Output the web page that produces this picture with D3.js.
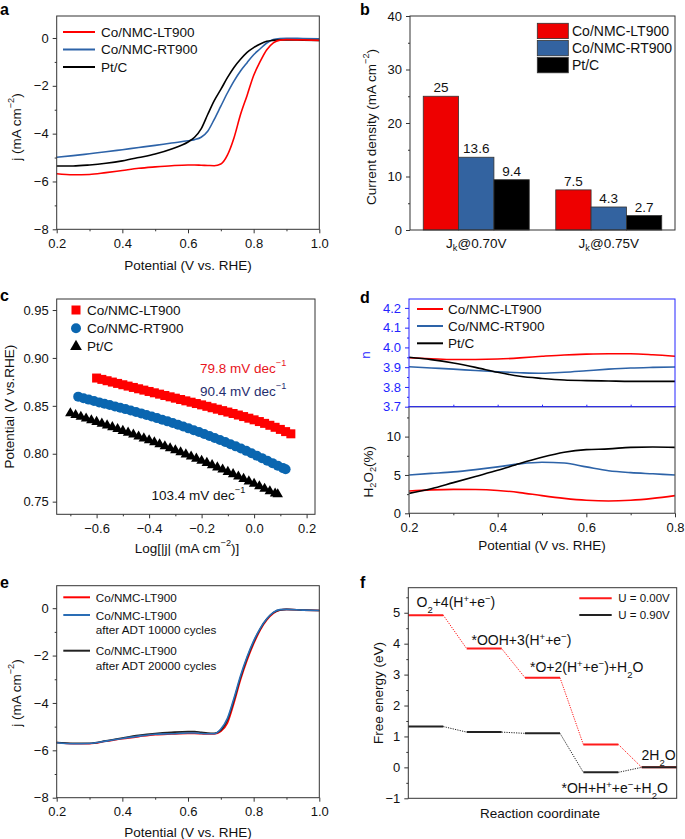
<!DOCTYPE html>
<html><head><meta charset="utf-8">
<script src="https://cdn.jsdelivr.net/npm/d3@7"></script>
<style>body{margin:0;background:#fff;} svg{display:block;font-family:"Liberation Sans",Arial,Helvetica,sans-serif;}</style>
</head><body><svg id="fig" width="685" height="839"></svg>
<script>
// ---------------- DATA ----------------
// Panel a: LSV curves
const aPotential = [0.2,0.25,0.3,0.35,0.4,0.45,0.5,0.55,0.6,0.62,0.64,0.66,0.68,0.7,0.72,0.74,0.76,0.78,0.8,0.82,0.84,0.86,0.88,0.9,0.95,1.0];
const aLT900 = [-5.68,-5.72,-5.71,-5.63,-5.54,-5.45,-5.39,-5.34,-5.31,-5.31,-5.32,-5.33,-5.34,-5.27,-4.9,-4.18,-3.2,-2.4,-1.57,-0.98,-0.49,-0.2,-0.09,-0.07,-0.08,-0.1];
const aRT900 = [-4.99,-4.92,-4.84,-4.76,-4.67,-4.58,-4.49,-4.39,-4.3,-4.25,-4.15,-3.9,-3.4,-2.85,-2.3,-1.8,-1.38,-1.03,-0.7,-0.45,-0.21,-0.06,-0.02,-0.01,-0.02,-0.03];
const aPtC   = [-5.35,-5.35,-5.31,-5.24,-5.14,-5.0,-4.85,-4.64,-4.35,-4.15,-3.8,-3.2,-2.62,-2.15,-1.66,-1.23,-0.89,-0.6,-0.4,-0.25,-0.14,-0.1,-0.08,-0.08,-0.09,-0.1];
const aSeriesNames = ["Co/NMC-LT900","Co/NMC-RT900","Pt/C"];

// Panel b: kinetic current densities
const bCategories = ["0.70V","0.75V"];
const bSeriesNames = ["Co/NMC-LT900","Co/NMC-RT900","Pt/C"];
const bLT900 = [25, 7.5];
const bRT900 = [13.6, 4.3];
const bPtC   = [9.4, 2.7];
const bLabels = [["25","7.5"],["13.6","4.3"],["9.4","2.7"]];

// Panel c: Tafel plots
const cLTx = [-0.60,-0.58,-0.56,-0.54,-0.52,-0.50,-0.48,-0.46,-0.44,-0.42,-0.40,-0.38,-0.36,-0.34,-0.32,-0.30,-0.28,-0.26,-0.24,-0.22,-0.20,-0.18,-0.16,-0.14,-0.12,-0.10,-0.08,-0.06,-0.04,-0.02,0.00,0.02,0.04,0.06,0.08,0.10,0.12,0.14];
const cLTy = [0.8790,0.8776,0.8762,0.8748,0.8734,0.8720,0.8706,0.8692,0.8678,0.8664,0.8650,0.8636,0.8622,0.8608,0.8594,0.8580,0.8566,0.8552,0.8538,0.8524,0.8510,0.8495,0.8480,0.8465,0.8450,0.8435,0.8420,0.8404,0.8388,0.8371,0.8354,0.8336,0.8317,0.8297,0.8276,0.8254,0.8231,0.8208];
const cRTx = [-0.67,-0.65,-0.63,-0.61,-0.59,-0.57,-0.55,-0.53,-0.51,-0.49,-0.47,-0.45,-0.43,-0.41,-0.39,-0.37,-0.35,-0.33,-0.31,-0.29,-0.27,-0.25,-0.23,-0.21,-0.19,-0.17,-0.15,-0.13,-0.11,-0.09,-0.07,-0.05,-0.03,-0.01,0.01,0.03,0.05,0.07,0.09,0.11,0.12];
const cRTy = [0.8596,0.8580,0.8565,0.8550,0.8536,0.8522,0.8508,0.8494,0.8480,0.8466,0.8451,0.8436,0.8421,0.8405,0.8389,0.8372,0.8355,0.8338,0.8320,0.8302,0.8284,0.8265,0.8246,0.8226,0.8206,0.8186,0.8165,0.8144,0.8122,0.8100,0.8077,0.8054,0.8030,0.8005,0.7980,0.7954,0.7928,0.7902,0.7876,0.7850,0.7838];
const cPtx = [-0.70,-0.68,-0.66,-0.64,-0.62,-0.60,-0.58,-0.56,-0.54,-0.52,-0.50,-0.48,-0.46,-0.44,-0.42,-0.40,-0.38,-0.36,-0.34,-0.32,-0.30,-0.28,-0.26,-0.24,-0.22,-0.20,-0.18,-0.16,-0.14,-0.12,-0.10,-0.08,-0.06,-0.04,-0.02,0.00,0.02,0.04,0.06,0.08,0.09];
const cPty = [0.8422,0.8404,0.8386,0.8368,0.8350,0.8332,0.8314,0.8296,0.8277,0.8258,0.8239,0.8220,0.8200,0.8180,0.8160,0.8140,0.8120,0.8099,0.8078,0.8057,0.8036,0.8015,0.7993,0.7971,0.7949,0.7927,0.7904,0.7881,0.7858,0.7835,0.7811,0.7787,0.7762,0.7737,0.7712,0.7686,0.7660,0.7634,0.7608,0.7585,0.7577];
const cSlopes = ["79.8 mV dec","90.4 mV dec","103.4 mV dec"];

// Panel d: electron transfer number and H2O2 yield
const dPotential = [0.2,0.25,0.3,0.35,0.4,0.45,0.5,0.55,0.6,0.65,0.7,0.75,0.8];
const dnLT = [3.948,3.943,3.939,3.939,3.941,3.947,3.955,3.962,3.966,3.968,3.968,3.963,3.955];
const dnRT = [3.902,3.896,3.890,3.883,3.877,3.872,3.869,3.874,3.882,3.890,3.896,3.899,3.901];
const dnPt = [3.950,3.938,3.921,3.899,3.874,3.854,3.843,3.835,3.832,3.830,3.828,3.828,3.828];
const dHLT = [2.9,3.05,3.12,3.1,2.98,2.7,2.3,1.95,1.7,1.6,1.7,1.95,2.3];
const dHRT = [5.0,5.2,5.4,5.7,6.05,6.45,6.65,6.55,6.05,5.55,5.3,5.15,5.0];
const dHPt = [2.6,3.2,4.0,4.8,5.6,6.5,7.3,7.95,8.3,8.4,8.6,8.65,8.6];

// Panel e: durability
const ePotential = [0.2,0.25,0.3,0.35,0.4,0.45,0.5,0.55,0.6,0.62,0.64,0.66,0.68,0.7,0.72,0.74,0.76,0.78,0.8,0.82,0.84,0.86,0.88,0.9,0.95,1.0];
const eInitial = [-5.67,-5.72,-5.72,-5.62,-5.51,-5.42,-5.34,-5.31,-5.29,-5.29,-5.3,-5.31,-5.31,-5.2,-4.85,-4.0,-3.02,-2.2,-1.5,-0.92,-0.5,-0.22,-0.08,-0.05,-0.08,-0.1];
const e10000  = [-5.68,-5.72,-5.71,-5.61,-5.5,-5.4,-5.32,-5.3,-5.27,-5.27,-5.29,-5.3,-5.3,-5.1,-4.65,-3.8,-2.85,-2.05,-1.38,-0.85,-0.45,-0.18,-0.06,-0.05,-0.08,-0.1];
const e20000  = [-5.67,-5.7,-5.7,-5.6,-5.48,-5.37,-5.29,-5.24,-5.21,-5.21,-5.24,-5.27,-5.28,-5.15,-4.72,-3.88,-2.92,-2.1,-1.42,-0.87,-0.46,-0.19,-0.07,-0.05,-0.08,-0.1];

// Panel f: free energy diagram
const fSteps = [0,1,2,3,4];
const fU000 = [4.92,3.84,2.90,0.74,0.0];
const fU090 = [1.32,1.14,1.10,-0.16,0.0];

// ---------------- HELPERS ----------------
const svg = d3.select("#fig");
const RED = "#ff0000", BLUE = "#2d63a8", BLK = "#000";
const AX = "#333";
const TICKF = 13, TITLEF = 13.5;

function rich(t, parts){
  parts.forEach(([s,k])=>{
    const ts = t.append("tspan").text(s);
    if(k==="sup") ts.attr("baseline-shift","super").attr("font-size","68%");
    if(k==="sub") ts.attr("baseline-shift","sub").attr("font-size","68%");
  });
  return t;
}
function styleAxis(sel, color){
  sel.attr("font-size",TICKF).attr("font-family",null);
  sel.select(".domain").remove();
  sel.selectAll("line").attr("stroke",color||AX);
  sel.selectAll("text").attr("fill",color||"#111");
}
function xAxisB(g, x, y0, major, minor, fmt, color){
  g.append("g").attr("transform",`translate(0,${y0})`)
    .call(d3.axisBottom(x).tickValues(major).tickFormat(fmt).tickSize(4).tickPadding(5))
    .call(s=>styleAxis(s,color));
  if(minor) g.append("g").attr("transform",`translate(0,${y0})`)
    .call(d3.axisBottom(x).tickValues(minor).tickFormat("").tickSize(2))
    .call(s=>styleAxis(s,color));
}
function yAxisL(g, y, x0, major, minor, fmt, color){
  g.append("g").attr("transform",`translate(${x0},0)`)
    .call(d3.axisLeft(y).tickValues(major).tickFormat(fmt).tickSize(4).tickPadding(4))
    .call(s=>styleAxis(s,color));
  if(minor) g.append("g").attr("transform",`translate(${x0},0)`)
    .call(d3.axisLeft(y).tickValues(minor).tickFormat("").tickSize(2))
    .call(s=>styleAxis(s,color));
}
function frame(g, x, y, color, w){
  const [x0,x1]=x.range(), [y1,y0]=y.range();
  g.append("rect").attr("x",x0).attr("y",y0).attr("width",x1-x0).attr("height",y1-y0)
    .attr("fill","none").attr("stroke",color||AX).attr("stroke-width",w||1);
}
function panelLabel(s,x,y){
  svg.append("text").attr("x",x).attr("y",y).attr("font-size",16).attr("font-weight","bold").text(s);
}
function yTitle(g, x, y, parts, color){
  const t = g.append("text").attr("transform",`translate(${x},${y}) rotate(-90)`)
    .attr("text-anchor","middle").attr("dominant-baseline","central")
    .attr("font-size",TITLEF).attr("fill",color||"#111");
  return rich(t, parts);
}
function xTitle(g, x, y, parts){
  const t = g.append("text").attr("x",x).attr("y",y).attr("text-anchor","middle")
    .attr("dominant-baseline","central").attr("font-size",TITLEF).attr("fill","#111");
  return rich(t, parts);
}
function lineLegend(g, x0, x1, tx, ys, names, colors, fs){
  ys.forEach((yy,i)=>{
    g.append("line").attr("x1",x0).attr("x2",x1).attr("y1",yy).attr("y2",yy)
      .attr("stroke",colors[i]).attr("stroke-width",2);
    if(names[i]) g.append("text").attr("x",tx).attr("y",yy).attr("dominant-baseline","central")
      .attr("font-size",fs||TITLEF).attr("fill","#111").text(names[i]);
  });
}
const fmt1 = d3.format(".1f"), fmtD = d3.format("d"), fmt2 = d3.format(".2f");

// ---------------- PANEL A ----------------
{
  const g = svg.append("g");
  const x = d3.scaleLinear().domain([0.2,1.0]).range([56.7,319.3]);
  const y = d3.scaleLinear().domain([-8,0.92]).range([229.3,16]);
  const line = d3.line().x(d=>x(d[0])).y(d=>y(d[1])).curve(d3.curveMonotoneX);
  [[aRT900,BLUE],[aPtC,BLK],[aLT900,RED]].forEach(([v,c])=>{
    g.append("path").attr("d",line(aPotential.map((p,i)=>[p,v[i]])))
      .attr("fill","none").attr("stroke",c).attr("stroke-width",1.6);
  });
  frame(g,x,y);
  xAxisB(g,x,229.3,[0.2,0.4,0.6,0.8,1.0],[0.3,0.5,0.7,0.9],fmt1);
  yAxisL(g,y,56.7,[-8,-6,-4,-2,0],[-7,-5,-3,-1],fmtD);
  xTitle(g,188,265,[["Potential (V vs. RHE)"]]);
  yTitle(g,16,127,[["j (mA cm"],["−2","sup"],[")"]]);
  lineLegend(g,63,95,101,[32,49.5,67],aSeriesNames,[RED,BLUE,BLK]);
  panelLabel("a",0,15);
}

// ---------------- PANEL B ----------------
{
  const g = svg.append("g");
  const x0 = d3.scaleBand().domain(bCategories).range([410,675]).paddingInner(0.2).paddingOuter(0.1);
  const x1 = d3.scaleBand().domain(bSeriesNames).range([0,x0.bandwidth()]);
  const y = d3.scaleLinear().domain([0,40]).range([230,16]);
  const vals = [bLT900,bRT900,bPtC];
  const cols = ["#ee0000","#3363a0","#000"];
  bSeriesNames.forEach((s,si)=>{
    bCategories.forEach((c,ci)=>{
      const bx = x0(c)+x1(s), by = y(vals[si][ci]);
      g.append("rect").attr("x",bx).attr("y",by).attr("width",x1.bandwidth()).attr("height",y(0)-by)
        .attr("fill",cols[si]).attr("stroke","#333").attr("stroke-width",0.8);
      g.append("text").attr("x",bx+x1.bandwidth()/2).attr("y",by-4).attr("text-anchor","middle")
        .attr("font-size",TITLEF).attr("fill","#111").text(bLabels[si][ci]);
    });
  });
  const xr = d3.scaleLinear().range([410,675]);
  frame(g,xr,y);
  yAxisL(g,y,410,[0,10,20,30,40],[5,15,25,35],fmtD);
  bCategories.forEach(c=>{
    const t = g.append("text").attr("x",x0(c)+x0.bandwidth()/2).attr("y",243).attr("text-anchor","middle")
      .attr("dominant-baseline","central").attr("font-size",TITLEF).attr("fill","#111");
    rich(t,[["J"],["k","sub"],["@"+c]]);
  });
  yTitle(g,371,127,[["Current density (mA cm"],["−2","sup"],[")"]]);
  const ly=[23.3,40.5,57.5];
  ly.forEach((yy,i)=>{
    g.append("rect").attr("x",537.3).attr("y",yy).attr("width",31).attr("height",15.3)
      .attr("fill",cols[i]).attr("stroke","#333").attr("stroke-width",0.8);
    g.append("text").attr("x",572).attr("y",yy+7.8).attr("dominant-baseline","central")
      .attr("font-size",14).attr("fill","#111").text(bSeriesNames[i]);
  });
  panelLabel("b",360,15);
}

// ---------------- PANEL C ----------------
{
  const g = svg.append("g");
  const x = d3.scaleLinear().domain([-0.752,0.232]).range([56.7,315]);
  const y = d3.scaleLinear().domain([0.7368,0.9615]).range([514.3,299]);
  const sq = 9;
  cLTx.forEach((v,i)=>g.append("rect").attr("x",x(v)-sq/2).attr("y",y(cLTy[i])-sq/2).attr("width",sq).attr("height",sq).attr("fill","#ff0000"));
  cRTx.forEach((v,i)=>g.append("circle").attr("cx",x(v)).attr("cy",y(cRTy[i])).attr("r",5).attr("fill","#0a66b0"));
  const tri = d3.symbol().type(d3.symbolTriangle).size(48);
  cPtx.forEach((v,i)=>g.append("path").attr("d",tri()).attr("transform",`translate(${x(v)},${y(cPty[i])})`).attr("fill","#000"));
  frame(g,x,y);
  xAxisB(g,x,514.3,[-0.6,-0.4,-0.2,0.0,0.2],[-0.7,-0.5,-0.3,-0.1,0.1],fmt1);
  yAxisL(g,y,56.7,[0.75,0.80,0.85,0.90,0.95],null,fmt2);
  xTitle(g,187,548,[["Log[|j| (mA cm"],["−2","sup"],[")]"]]);
  yTitle(g,9,406.7,[["Potential (V vs.RHE)"]]);
  g.append("rect").attr("x",76-4.5).attr("y",310-4.5).attr("width",9).attr("height",9).attr("fill","#ff0000");
  g.append("circle").attr("cx",76).attr("cy",328.3).attr("r",5).attr("fill","#0a66b0");
  g.append("path").attr("d",d3.symbol().type(d3.symbolTriangle).size(60)()).attr("transform","translate(76,346.5)").attr("fill","#000");
  ["Co/NMC-LT900","Co/NMC-RT900","Pt/C"].forEach((n,i)=>g.append("text").attr("x",87).attr("y",[310,328.3,346][i])
    .attr("dominant-baseline","central").attr("font-size",TITLEF).attr("fill","#111").text(n));
  const sl = [[200,368,"#e8141c"],[200,391,"#1f2d6e"],[151.5,495,"#111"]];
  sl.forEach(([tx,ty,c],i)=>{
    const t = g.append("text").attr("x",tx).attr("y",ty).attr("dominant-baseline","central")
      .attr("font-size",TITLEF).attr("fill",c);
    rich(t,[[cSlopes[i]],["−1","sup"]]);
  });
  panelLabel("c",0,301);
}

// ---------------- PANEL D ----------------
{
  const g = svg.append("g");
  const x = d3.scaleLinear().domain([0.2,0.8]).range([409,675]);
  const yt = d3.scaleLinear().domain([3.7,4.245]).range([406.7,299]);
  const yb = d3.scaleLinear().domain([0,13.9]).range([513.3,406.7]);
  const DB = "#2424ff";
  const lt = d3.line().x(d=>x(d[0])).y(d=>yt(d[1])).curve(d3.curveMonotoneX);
  const lb = d3.line().x(d=>x(d[0])).y(d=>yb(d[1])).curve(d3.curveMonotoneX);
  [[dnRT,BLUE],[dnLT,RED],[dnPt,BLK]].forEach(([v,c])=>g.append("path").attr("d",lt(dPotential.map((p,i)=>[p,v[i]])))
    .attr("fill","none").attr("stroke",c).attr("stroke-width",1.6));
  [[dHRT,BLUE],[dHLT,RED],[dHPt,BLK]].forEach(([v,c])=>g.append("path").attr("d",lb(dPotential.map((p,i)=>[p,v[i]])))
    .attr("fill","none").attr("stroke",c).attr("stroke-width",1.6));
  frame(g,x,yb,"#555",1.2);
  frame(g,x,yt,DB,1);
  xAxisB(g,x,513.3,[0.2,0.4,0.6,0.8],[0.3,0.5,0.7],fmt1);
  g.append("g").attr("transform","translate(0,406.7)")
    .call(d3.axisTop(x).tickValues([0.3,0.4,0.5,0.6,0.7]).tickFormat("").tickSize(2))
    .call(s=>styleAxis(s,DB));
  yAxisL(g,yt,409,[3.7,3.8,3.9,4.0,4.1,4.2],[3.75,3.85,3.95,4.05,4.15],fmt1,DB);
  yAxisL(g,yb,409,[0,5,10],[2.5,7.5,12.5],fmtD);
  xTitle(g,542,545,[["Potential (V vs. RHE)"]]);
  yTitle(g,365,355,[["n"]],DB);
  yTitle(g,368,471.7,[["H"],["2","sub"],["O"],["2","sub"],["(%)"]]);
  lineLegend(g,417,443,448,[309,326,343.3],aSeriesNames,[RED,BLUE,BLK]);
  panelLabel("d",360,303);
}

// ---------------- PANEL E ----------------
{
  const g = svg.append("g");
  const x = d3.scaleLinear().domain([0.2,1.0]).range([56.7,319.3]);
  const y = d3.scaleLinear().domain([-8,0.95]).range([797.7,585.7]);
  const line = d3.line().x(d=>x(d[0])).y(d=>y(d[1])).curve(d3.curveMonotoneX);
  [[eInitial,RED],[e20000,"#222"],[e10000,"#2a6db5"]].forEach(([v,c])=>{
    g.append("path").attr("d",line(ePotential.map((p,i)=>[p,v[i]])))
      .attr("fill","none").attr("stroke",c).attr("stroke-width",1.6);
  });
  frame(g,x,y);
  xAxisB(g,x,797.7,[0.2,0.4,0.6,0.8,1.0],[0.3,0.5,0.7,0.9],fmt1);
  yAxisL(g,y,56.7,[-8,-6,-4,-2,0],[-7,-5,-3,-1],fmtD);
  xTitle(g,188,831.5,[["Potential (V vs. RHE)"]]);
  yTitle(g,16,693,[["j (mA cm"],["−2","sup"],[")"]]);
  lineLegend(g,63.3,90,0,[597.3,615,650.7],[null,null,null],[RED,"#2a6db5","#222"]);
  [["Co/NMC-LT900",597.3],["Co/NMC-LT900",615],["after ADT 10000 cycles",629.5],["Co/NMC-LT900",650.7],["after ADT 20000 cycles",665]]
    .forEach(([s,yy])=>g.append("text").attr("x",95.7).attr("y",yy).attr("dominant-baseline","central")
      .attr("font-size",11.7).attr("fill","#111").text(s));
  panelLabel("e",0,588);
}

// ---------------- PANEL F ----------------
{
  const g = svg.append("g");
  const x = d3.scaleLinear().domain([0,4.6]).range([408.3,676.7]);
  const y = d3.scaleLinear().domain([-1,5.81]).range([798.3,587.7]);
  const W = 0.6;
  function drawLevels(vals,c){
    fSteps.forEach((s,i)=>{
      g.append("line").attr("x1",x(s)).attr("x2",x(s+W)).attr("y1",y(vals[i])).attr("y2",y(vals[i]))
        .attr("stroke",c).attr("stroke-width",2);
      if(i<fSteps.length-1) g.append("line").attr("x1",x(s+W)).attr("x2",x(fSteps[i+1]))
        .attr("y1",y(vals[i])).attr("y2",y(vals[i+1])).attr("stroke",c).attr("stroke-width",1)
        .attr("stroke-dasharray","1.2,1.2");
    });
  }
  drawLevels(fU000,"#ff1a1a");
  drawLevels(fU090,"#222");
  frame(g,x,y);
  yAxisL(g,y,408.3,[-1,0,1,2,3,4,5],[-0.5,0.5,1.5,2.5,3.5,4.5,5.5],fmtD);
  xTitle(g,540,813,[["Reaction coordinate"]]);
  yTitle(g,378,693,[["Free energy (eV)"]]);
  const labs = [
    [416.5,606.5,[["O"],["2","sub"],["+4(H"],["+","sup"],["+e"],["−","sup"],[")"]]],
    [471.5,645,[["*OOH+3(H"],["+","sup"],["+e"],["−","sup"],[")"]]],
    [530,672,[["*O+2(H"],["+","sup"],["+e"],["−","sup"],[")+H"],["2","sub"],["O"]]],
    [641.5,759.5,[["2H"],["2","sub"],["O"]]],
    [561.5,793,[["*OH+H"],["+","sup"],["+e"],["−","sup"],["+H"],["2","sub"],["O"]]]
  ];
  labs.forEach(([tx,ty,parts])=>{
    const t = g.append("text").attr("x",tx).attr("y",ty).attr("font-size",14).attr("fill","#111");
    rich(t,parts);
  });
  g.append("line").attr("x1",579.3).attr("x2",611.7).attr("y1",598.3).attr("y2",598.3).attr("stroke","#ff1a1a").attr("stroke-width",2);
  g.append("line").attr("x1",579.3).attr("x2",611.7).attr("y1",615).attr("y2",615).attr("stroke","#222").attr("stroke-width",2);
  g.append("text").attr("x",618.3).attr("y",598.3).attr("dominant-baseline","central").attr("font-size",11.5).attr("fill","#111").text("U = 0.00V");
  g.append("text").attr("x",618.3).attr("y",615).attr("dominant-baseline","central").attr("font-size",11.5).attr("fill","#111").text("U = 0.90V");
  panelLabel("f",360,588);
}
</script></body></html>
